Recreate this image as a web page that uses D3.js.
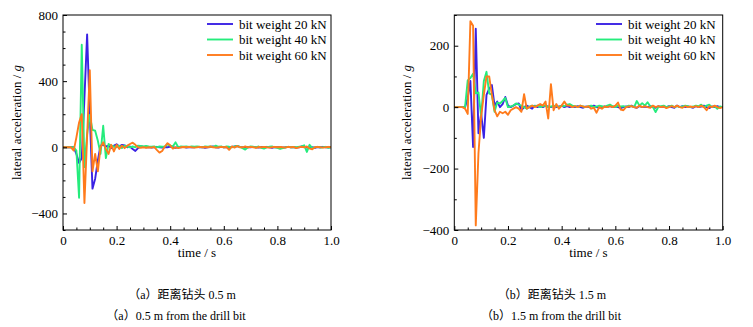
<!DOCTYPE html>
<html><head><meta charset="utf-8">
<script src="https://cdn.jsdelivr.net/npm/d3@7"></script>
<style>body{margin:0;background:#fff}svg{display:block}</style>
</head><body>
<svg id="c" width="753" height="327"></svg>
<script>
const time = [0,0.01,0.02,0.03,0.04,0.05,0.06,0.07,0.08,0.09,0.10,0.11,0.12,0.13,0.14,0.15,0.16,0.17,0.18,0.19,0.20,0.21,0.22,0.23,0.24,0.25,0.26,0.27,0.28,0.29,0.30,0.31,0.32,0.33,0.34,0.35,0.36,0.37,0.38,0.39,0.40,0.41,0.42,0.43,0.44,0.45,0.46,0.47,0.48,0.49,0.50,0.51,0.52,0.53,0.54,0.55,0.56,0.57,0.58,0.59,0.60,0.61,0.62,0.63,0.64,0.65,0.66,0.67,0.68,0.69,0.70,0.71,0.72,0.73,0.74,0.75,0.76,0.77,0.78,0.79,0.80,0.81,0.82,0.83,0.84,0.85,0.86,0.87,0.88,0.89,0.90,0.91,0.92,0.93,0.94,0.95,0.96,0.97,0.98,0.99,1.00];

const seriesNames = ["bit weight 20 kN","bit weight 40 kN","bit weight 60 kN"];

// (a) 0.5 m from the drill bit
const a20 = [0,0,0,0,0,-40,-95,-65,300,683, 200,-250,-190,-80,10,15,5,10,-5,10, 18,5,15,12,0,5,-10,-22,-5,5,
  3,0,2,-2,0,3,0,-2,2,0, 5,0,-3,2,0,3,-2,0,2,0, 3,0,2,-3,0,2,5,0,-2,3, 0,2,-3,3,5,8,3,0,-2,2, 0,3,0,-2,2,0,3,0,-3,2, 0,2,-2,0,3,0,2,-2,0,5, 3,-2,5,0,-3,2,0,3,0,2, 0];
const a40 = [0,0,0,0,0,-20,-305,620,-120,80, 195,105,100,40,-40,130,-65,20,10,5, 0,10,-5,10,5,0,5,0,10,8,
  5,8,5,3,5,0,5,3,5,18, 10,5,30,0,5,3,5,2,5,3, 5,3,0,5,3,5,2,10,3,5, 0,5,3,0,5,8,3,-5,-14,0, 5,3,0,5,-3,-8,0,3,5,0, -3,-10,-5,0,3,0,2,0,3,5, 12,-28,15,-5,0,3,-2,0,3,-3, 0];
const a60 = [0,0,0,0,-20,60,150,200,-337,65, 466,-145,-40,-145,0,30,-10,-40,15,-25, 15,-10,10,-5,10,20,28,15,0,-3,
  0,-3,0,-2,3,-15,-32,-22,5,25, 12,-8,0,-5,0,2,0,3,0,-2, 0,3,0,2,0,5,0,-2,0,3, 0,2,-15,5,-2,8,0,0,5,0, 3,0,-3,2,0,3,0,-2,0,3, 0,2,0,-2,3,0,2,-5,0,3, 0,5,-8,-12,0,3,0,-2,0,3, 0];

// (b) 1.5 m from the drill bit
const b20 = [0,0,0,0,0,30,85,-130,255,-85, -20,-100,40,60,72,5,18,0,10,33, 5,0,5,10,12,-10,0,5,0,-5,
  5,0,3,0,5,2,0,3,0,2, 5,0,3,0,2,0,3,0,-2,2, 0,3,5,0,-2,0,2,0,3,0, 2,0,-3,0,2,0,5,0,-2,3, 0,2,0,3,0,-2,3,0,2,0, 3,0,-2,5,0,3,0,2,0,-2, 3,0,2,5,0,-3,2,0,3,0, 0];
const b40 = [0,0,0,0,0,87,95,109,45,48, -30,85,115,45,40,-15,15,12,20,30, 0,2,5,12,8,5,0,-5,2,5,
  3,5,0,3,5,0,2,5,3,0, 5,3,8,10,5,3,0,5,2,0, 3,5,0,2,5,3,0,5,8,3, 0,5,2,3,0,5,3,0,20,5, 13,5,16,3,0,-16,0,3,5,0, 2,5,0,3,0,2,5,3,0,2, 5,3,8,0,5,8,0,3,-5,2, 0];
const b60 = [0,0,0,0,-5,-22,280,265,-385,-150, -30,40,100,100,40,-10,-30,-15,-20,-15, -25,-10,-5,0,-5,-15,42,-5,0,5,
  0,5,10,5,18,-37,75,-10,10,-5, 5,18,5,5,0,3,0,5,2,0, 3,-5,-2,-18,0,-5,2,0,3,0, 5,15,-8,-10,0,2,3,0,-2,5, 0,3,0,-2,5,0,3,0,2,-3, 0,3,0,5,0,-2,3,0,2,0, 3,0,5,0,-10,3,0,5,0,-3, 0];

const xTicks = [0,0.2,0.4,0.6,0.8,1.0];
const xMinor = [0.05,0.1,0.15,0.25,0.3,0.35,0.45,0.5,0.55,0.65,0.7,0.75,0.85,0.9,0.95];
const aYTicks = [-400,0,400,800];
const aYMinor = [-500,-300,-200,-100,100,200,300,500,600,700];
const bYTicks = [-400,-200,0,200];
const bYMinor = [-300,-100,100,300];

const captions = [
  ["（a）距离钻头 0.5 m","（a）0.5 m from the drill bit"],
  ["（b）距离钻头 1.5 m","（b）1.5 m from the drill bit"]
];

const colors = ["#3a22e4","#25ec7c","#ff7b1c"];
const serif = "'Liberation Serif','Times New Roman',serif";

const svg = d3.select("#c");
svg.append("rect").attr("width",753).attr("height",327).attr("fill","#fff");

function panel(cfg){
  const g = svg.append("g");
  const x = d3.scaleLinear().domain([0,1]).range([cfg.x0,cfg.x1]);
  const y = d3.scaleLinear().domain(cfg.yDom).range([230,15]);
  const clipId = "clip"+cfg.id;
  svg.append("clipPath").attr("id",clipId).append("rect")
    .attr("x",cfg.x0).attr("y",15).attr("width",cfg.x1-cfg.x0).attr("height",215);

  const line = d3.line().x((d,i)=>x(time[i])).y(d=>y(d));
  const lg = g.append("g").attr("clip-path",`url(#${clipId})`);
  cfg.series.forEach((s,k)=>{
    lg.append("path").datum(s).attr("d",line).attr("fill","none")
      .attr("stroke",colors[k]).attr("stroke-width",1.9).attr("stroke-linejoin","round");
  });

  const ax = g.append("g").attr("transform","translate(0,230)")
    .call(d3.axisBottom(x).tickValues(xTicks).tickSize(-4).tickPadding(6).tickFormat(d=>d===0?"0":d3.format(".1f")(d)));
  const axm = g.append("g").attr("transform","translate(0,230)")
    .call(d3.axisBottom(x).tickValues(xMinor).tickSize(-2.5).tickFormat(""));
  const ay = g.append("g").attr("transform",`translate(${cfg.x0},0)`)
    .call(d3.axisLeft(y).tickValues(cfg.yTicks).tickSize(-4).tickPadding(5).tickFormat(d=>d<0?"\u2212"+Math.abs(d):d));
  const aym = g.append("g").attr("transform",`translate(${cfg.x0},0)`)
    .call(d3.axisLeft(y).tickValues(cfg.yMinor).tickSize(-2.5).tickFormat(""));
  [ax,axm,ay,aym].forEach(a=>{
    a.select(".domain").remove();
    a.selectAll("line").attr("stroke","#000").attr("stroke-width",1);
    a.selectAll("text").attr("font-family",serif).attr("font-size","13px").attr("fill","#000");
  });

  g.append("rect").attr("x",cfg.x0).attr("y",15).attr("width",cfg.x1-cfg.x0).attr("height",215)
    .attr("fill","none").attr("stroke","#000").attr("stroke-width",1);

  g.append("text").attr("x",(cfg.x0+cfg.x1)/2).attr("y",257).attr("text-anchor","middle")
    .attr("font-family",serif).attr("font-size","13px").text("time / s");
  const yl = g.append("text").attr("transform",`translate(${cfg.ylx},122.5) rotate(-90)`)
    .attr("text-anchor","middle").attr("dy","0.35em").attr("font-family",serif).attr("font-size","13px");
  yl.append("tspan").text("lateral acceleration / ");
  yl.append("tspan").attr("font-style","italic").text("g");

  seriesNames.forEach((n,k)=>{
    const yy = 24 + k*15.5;
    g.append("line").attr("x1",cfg.legX).attr("x2",cfg.legX+26).attr("y1",yy).attr("y2",yy)
      .attr("stroke",colors[k]).attr("stroke-width",1.9);
    g.append("text").attr("x",cfg.legX+32).attr("y",yy+4.5).attr("font-family",serif)
      .attr("font-size","13px").text(n);
  });

  g.append("text").attr("x",cfg.c1).attr("y",299).attr("text-anchor","middle")
    .attr("font-family",serif+",'Noto Sans CJK SC'").attr("font-size","12px").text(cfg.cap[0]);
  g.append("text").attr("x",cfg.c2).attr("y",320).attr("text-anchor","middle")
    .attr("font-family",serif+",'Noto Sans CJK SC'").attr("font-size","12px").text(cfg.cap[1]);
}

panel({id:"a",x0:63,x1:331,yDom:[-500,800],yTicks:aYTicks,yMinor:aYMinor,series:[a20,a40,a60],
  ylx:16,legX:207,c1:182,c2:176,cap:captions[0]});
panel({id:"b",x0:454.3,x1:722.7,yDom:[-400,300],yTicks:bYTicks,yMinor:bYMinor,series:[b20,b40,b60],
  ylx:406,legX:596,c1:552,c2:551,cap:captions[1]});
</script>
</body></html>
